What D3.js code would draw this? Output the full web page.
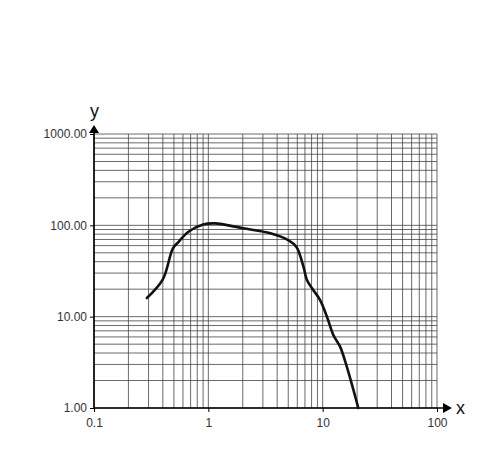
<!DOCTYPE html>
<html>
<head>
<meta charset="utf-8">
<script src="https://cdn.jsdelivr.net/npm/d3@7"></script>
<style>
  body { margin: 0; background: #fff; }
  svg { display: block; font-family: "Liberation Sans", Arial, sans-serif; }
  .grid line { stroke: #444; stroke-width: 0.8; }
  .axis path, .axis line { stroke: #000; }
</style>
</head>
<body>
<svg id="chart" width="500" height="455"></svg>
<script>
// curve
var xVals = [0.29, 0.40, 0.49, 0.55, 0.67, 0.90, 1.14, 2.0, 3.5, 5.0, 5.9, 6.8, 7.3, 8.3, 9.5, 10.9, 12.4, 14.2, 16.3, 20.5];
var yVals = [16, 25.6, 56, 66, 85, 102, 105, 93, 82, 69, 58, 35, 25, 19.5, 15.2, 10, 6.3, 4.7, 2.8, 1.0];

var xTicks = [0.1, 1, 10, 100];
var xTickLabels = ["0.1", "1", "10", "100"];
var yTicks = [1, 10, 100, 1000];
var yTickLabels = ["1.00", "10.00", "100.00", "1000.00"];

var svg = d3.select("#chart");

var x = d3.scaleLog().domain([0.1, 100]).range([94, 437]);
var y = d3.scaleLog().domain([1, 1000]).range([408, 134]);

// minor + major grid, 1..9 per decade
function gridVals(lo, hi) {
    let out = [];
    for (let d = lo; d < hi; d *= 10) {
        for (let k = 1; k <= 9; k++) out.push(d * k);
    }
    out.push(hi);
    return out;
}

let grid = svg.append("g").attr("class", "grid");

grid.selectAll(".vx").data(gridVals(0.1, 100)).enter().append("line")
    .attr("x1", d => x(d)).attr("x2", d => x(d))
    .attr("y1", y(1)).attr("y2", y(1000));

grid.selectAll(".hy").data(gridVals(1, 1000)).enter().append("line")
    .attr("x1", x(0.1)).attr("x2", x(100))
    .attr("y1", d => y(d)).attr("y2", d => y(d));

// axes
let xAxis = d3.axisBottom(x).tickValues(xTicks)
    .tickFormat((d, i) => xTickLabels[i]).tickSize(4).tickSizeOuter(0);
let yAxis = d3.axisLeft(y).tickValues(yTicks)
    .tickFormat((d, i) => yTickLabels[i]).tickSize(4).tickSizeOuter(0);

let gx = svg.append("g").attr("class", "axis").attr("transform", `translate(0,${y(1)})`).call(xAxis);
gx.select(".domain").remove();

let gy = svg.append("g").attr("class", "axis").attr("transform", `translate(${x(0.1)},0)`).call(yAxis);
gy.select(".domain").remove();

svg.selectAll(".axis")
    .attr("font-family", "Liberation Sans, Arial, sans-serif")
    .attr("font-size", 12);
svg.selectAll(".axis text").style("fill", "#333");
gx.selectAll("text").attr("dy", "1em");

// axis lines with arrows
svg.append("line")
    .attr("x1", x(0.1)).attr("x2", 445)
    .attr("y1", y(1)).attr("y2", y(1))
    .style("stroke", "#000").style("stroke-width", 1.6);
svg.append("path")
    .attr("d", `M443,${y(1) - 5}L452,${y(1)}L443,${y(1) + 5}Z`)
    .style("fill", "#000");

svg.append("line")
    .attr("x1", x(0.1)).attr("x2", x(0.1))
    .attr("y1", y(1)).attr("y2", 131)
    .style("stroke", "#000").style("stroke-width", 1.6);
svg.append("path")
    .attr("d", `M${x(0.1) - 5},133L${x(0.1)},125L${x(0.1) + 5},133Z`)
    .style("fill", "#000");

svg.append("text").attr("x", 456).attr("y", 414)
    .style("font-size", "18px").style("fill", "#111").text("x");
svg.append("text").attr("x", 90).attr("y", 117)
    .style("font-size", "18px").style("fill", "#111").text("y");

// the curve
let pts = xVals.map((v, i) => [v, yVals[i]]);
let line = d3.line()
    .x(d => x(d[0])).y(d => y(d[1]))
    .curve(d3.curveCatmullRom.alpha(0.5));

svg.append("path")
    .datum(pts)
    .attr("d", line)
    .style("fill", "none")
    .style("stroke", "#111")
    .style("stroke-width", 2.6)
    .style("stroke-linecap", "round")
    .style("stroke-linejoin", "round");
</script>
</body>
</html>
